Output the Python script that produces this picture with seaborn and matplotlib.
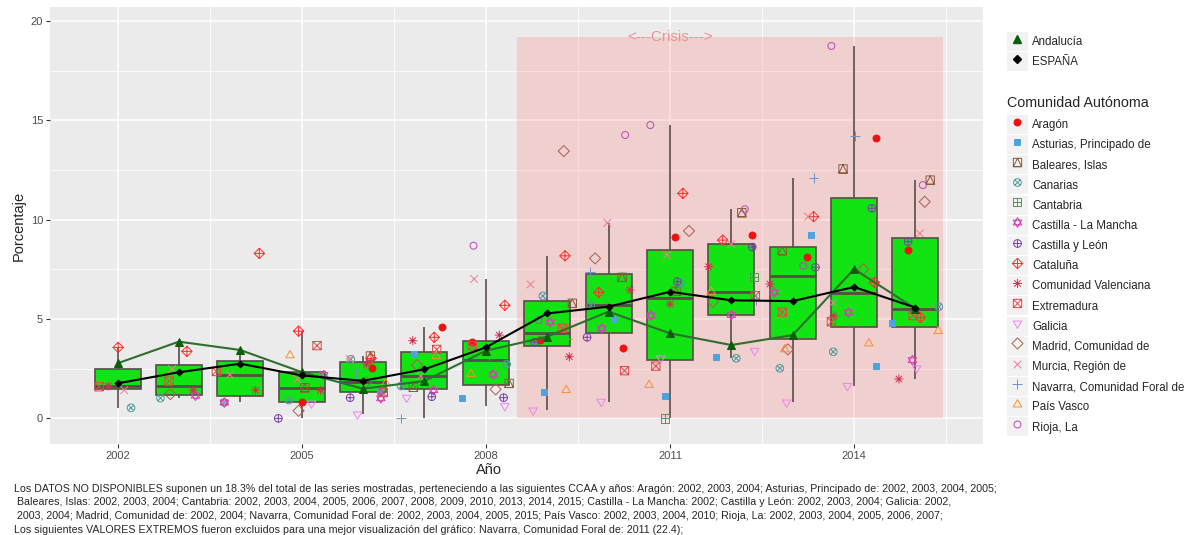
import numpy as np
import pandas as pd
import matplotlib
matplotlib.use("Agg")
import matplotlib.pyplot as plt
import seaborn as sns
from matplotlib.path import Path
from matplotlib.markers import MarkerStyle
from matplotlib.patches import Rectangle
from matplotlib.lines import Line2D
from matplotlib.ticker import FixedLocator

N = None
anios = list(range(2002, 2016))

# series con linea propia
andalucia = [2.77, 3.86, 3.44, 2.33, 1.49, 1.88, 3.40, 4.11, 5.37, 4.28, 3.69, 4.19, 7.51, 5.52]
espana = [1.76, 2.32, 2.75, 2.16, 1.89, 2.47, 3.57, 5.28, 5.62, 6.37, 5.94, 5.90, 6.61, 5.57]

# resto de CCAA (None = dato no disponible)
aragon = [N, N, N, 0.84, 2.53, 4.61, 3.82, 3.94, 3.55, 9.14, 9.22, 8.12, 14.09, 8.49]
asturias = [N, N, N, N, 1.40, 3.22, 1.04, 1.31, 4.98, 1.14, 3.10, 9.22, 2.63, 4.81]
baleares = [N, N, N, 1.54, 3.14, 1.56, 1.76, 5.79, 7.10, 6.40, 10.35, 8.44, 12.55, 11.99]
canarias = [0.53, 1.02, 0.80, 0.92, 2.97, 1.63, 2.72, 6.16, 5.68, 6.81, 3.02, 2.52, 3.35, 5.62]
cantabria = [N, N, N, N, N, N, N, N, N, 0.00, 7.10, N, N, N]
castilla_mancha = [N, 1.14, 0.80, 2.18, 1.01, 1.42, 2.21, 4.83, 4.53, 5.17, 5.20, 6.34, 5.33, 2.93]
castilla_leon = [N, N, N, 0.00, 1.04, 1.09, 1.04, 3.83, 4.08, 6.88, 8.62, 7.60, 10.57, 8.89]
cataluna = [3.57, 3.37, 8.30, 4.39, 3.02, 4.08, 5.69, 8.18, 6.34, 11.32, 8.97, 10.15, 6.84, 5.08]
valenciana = [1.63, 1.42, 1.42, 1.42, 2.73, 3.91, 4.19, 3.10, 6.46, 5.75, 7.63, 6.76, 5.15, 1.98]
extremadura = [1.59, 1.88, 2.36, 3.66, 1.30, 3.47, 3.66, 4.53, 2.40, 2.63, 6.17, 5.35, 4.86, 5.17]
galicia = [N, N, N, 0.75, 0.20, 1.04, 0.62, 0.40, 0.84, 3.02, 3.40, 0.80, 1.63, 2.52]
madrid = [N, 1.22, N, 0.38, 1.81, 2.68, 1.46, 13.45, 8.05, 9.43, 5.87, 3.47, 7.50, 10.90]
murcia = [1.42, 2.47, 2.20, 1.98, 3.00, 2.13, 7.01, 6.74, 9.84, 8.22, 8.76, 10.15, 5.82, 9.31]
navarra = [N, N, N, N, 2.30, 0.00, 3.20, 3.98, 7.38, N, 5.95, 12.08, 14.21, N]
pais_vasco = [N, N, N, 3.17, 1.76, 3.14, 2.23, 1.42, N, 1.68, 6.37, 3.47, 3.77, 4.39]
rioja = [N, N, N, N, N, N, 8.69, 4.95, 14.26, 14.76, 10.52, 7.68, 18.74, 11.74]

# desplazamiento horizontal (jitter) de cada punto, en años
j_aragon = [N, N, N, 0.00, 0.14, 0.28, -0.22, -0.11, 0.24, 0.09, 0.34, 0.23, 0.35, -0.12]
j_asturias = [N, N, N, N, 0.28, -0.17, -0.38, -0.05, 0.09, -0.08, -0.25, 0.29, 0.35, -0.38]
j_baleares = [N, N, N, 0.05, 0.12, -0.18, 0.38, 0.41, 0.22, 0.10, 0.17, -0.17, -0.18, 0.24]
j_canarias = [0.22, -0.30, -0.26, -0.21, -0.20, -0.38, 0.34, -0.07, -0.29, 0.17, 0.08, -0.21, -0.34, 0.38]
j_cantabria = [N, N, N, N, N, N, N, N, N, -0.08, 0.37, N, N, N]
j_castilla_mancha = [N, 0.27, -0.26, 0.36, 0.29, 0.15, 0.12, 0.05, -0.11, -0.31, 0.00, -0.30, -0.09, -0.05]
j_castilla_leon = [N, N, N, -0.38, -0.21, 0.12, 0.29, -0.21, -0.35, 0.12, 0.34, 0.37, 0.29, -0.12]
j_cataluna = [0.01, 0.13, 0.31, -0.05, 0.13, 0.16, 0.31, 0.29, -0.16, 0.21, -0.14, 0.34, 0.33, 0.08]
j_valenciana = [-0.15, 0.23, 0.25, 0.31, 0.06, -0.19, 0.22, 0.36, 0.35, 0.00, -0.37, -0.37, -0.33, -0.27]
j_extremadura = [-0.30, -0.16, -0.39, 0.25, 0.33, 0.20, -0.22, 0.25, 0.26, -0.23, 0.39, -0.17, -0.37, -0.04]
j_galicia = [N, N, N, 0.16, -0.09, -0.29, 0.31, -0.23, -0.12, -0.15, 0.38, -0.10, -0.11, 0.02]
j_madrid = [N, -0.14, N, -0.05, 0.05, -0.12, 0.16, 0.27, -0.22, 0.31, -0.30, -0.08, 0.15, 0.15]
j_murcia = [0.11, -0.11, -0.17, -0.07, -0.22, -0.06, -0.19, -0.27, -0.02, -0.05, 0.00, 0.25, -0.34, 0.07]
j_navarra = [N, N, N, N, -0.12, -0.38, 0.05, 0.33, -0.30, N, 0.40, 0.34, 0.02, N]
j_pais_vasco = [N, N, N, -0.19, 0.37, 0.19, -0.24, 0.31, N, -0.34, -0.33, -0.13, 0.24, 0.37]
j_rioja = [N, N, N, N, N, N, -0.20, -0.14, 0.27, -0.32, 0.22, 0.17, -0.37, 0.12]

crisis_inicio, crisis_fin, crisis_alto = 2008.5, 2015.45, 19.2
crisis_texto_x = 2011

nota = [
    "Los DATOS NO DISPONIBLES suponen un 18.3% del total de las series mostradas, perteneciendo a las siguientes CCAA y años: Aragón: 2002, 2003, 2004; Asturias, Principado de: 2002, 2003, 2004, 2005;",
    " Baleares, Islas: 2002, 2003, 2004; Cantabria: 2002, 2003, 2004, 2005, 2006, 2007, 2008, 2009, 2010, 2013, 2014, 2015; Castilla - La Mancha: 2002; Castilla y León: 2002, 2003, 2004; Galicia: 2002,",
    " 2003, 2004; Madrid, Comunidad de: 2002, 2004; Navarra, Comunidad Foral de: 2002, 2003, 2004, 2005, 2015; País Vasco: 2002, 2003, 2004, 2010; Rioja, La: 2002, 2003, 2004, 2005, 2006, 2007;",
    "Los siguientes VALORES EXTREMOS fueron excluidos para una mejor visualización del gráfico: Navarra, Comunidad Foral de: 2011 (22.4);",
]


# --- formas tipo ggplot (shapes 16..1) ---
def linea(*pts):
    return Path(pts, [Path.MOVETO] + [Path.LINETO] * (len(pts) - 1))


def poligono(*pts):
    return Path(list(pts) + [pts[0]], closed=True)


c = Path.unit_circle()
cuad = poligono((-1, -1), (1, -1), (1, 1), (-1, 1))
rombo = poligono((0, 1), (1, 0), (0, -1), (-1, 0))
mas = Path.make_compound_path(linea((-1, 0), (1, 0)), linea((0, -1), (0, 1)))
equis = Path.make_compound_path(linea((-1, -1), (1, 1)), linea((-1, 1), (1, -1)))
equis_c = Path.make_compound_path(linea((-.71, -.71), (.71, .71)), linea((-.71, .71), (.71, -.71)))
tri_up = poligono((0, 1), (-0.87, -0.5), (0.87, -0.5))
tri_dn = poligono((0, -1), (-0.87, 0.5), (0.87, 0.5))

formas = {
    "Aragón": ("o", "#ee1111", True, 5.0),
    "Asturias, Principado de": ("s", "#4fa3dc", True, 5.0),
    "Baleares, Islas": (Path.make_compound_path(cuad, poligono((-1, -1), (1, -1), (0, 1))), "#8b5a3c", False, 6.0),
    "Canarias": (Path.make_compound_path(c, equis_c), "#4f9a9a", False, 5.5),
    "Cantabria": (Path.make_compound_path(cuad, mas), "#4e9a4e", False, 6.0),
    "Castilla - La Mancha": (Path.make_compound_path(tri_up, tri_dn), "#d63fb5", False, 7.0),
    "Castilla y León": (Path.make_compound_path(c, mas), "#7d3fa8", False, 5.5),
    "Cataluña": (Path.make_compound_path(rombo, mas), "#ff3030", False, 7.5),
    "Comunidad Valenciana": (Path.make_compound_path(mas, equis_c), "#d03050", False, 6.5),
    "Extremadura": (Path.make_compound_path(cuad, equis), "#e04848", False, 6.0),
    "Galicia": (tri_dn, "#ee82ee", False, 7.0),
    "Madrid, Comunidad de": (rombo, "#b05a50", False, 8.0),
    "Murcia, Región de": (equis, "#f57a90", False, 5.5),
    "Navarra, Comunidad Foral de": (mas, "#6f93c4", False, 7.0),
    "País Vasco": (tri_up, "#f59030", False, 7.0),
    "Rioja, La": (c, "#b848b8", False, 5.0),
}

series = {
    "Aragón": (aragon, j_aragon),
    "Asturias, Principado de": (asturias, j_asturias),
    "Baleares, Islas": (baleares, j_baleares),
    "Canarias": (canarias, j_canarias),
    "Cantabria": (cantabria, j_cantabria),
    "Castilla - La Mancha": (castilla_mancha, j_castilla_mancha),
    "Castilla y León": (castilla_leon, j_castilla_leon),
    "Cataluña": (cataluna, j_cataluna),
    "Comunidad Valenciana": (valenciana, j_valenciana),
    "Extremadura": (extremadura, j_extremadura),
    "Galicia": (galicia, j_galicia),
    "Madrid, Comunidad de": (madrid, j_madrid),
    "Murcia, Región de": (murcia, j_murcia),
    "Navarra, Comunidad Foral de": (navarra, j_navarra),
    "País Vasco": (pais_vasco, j_pais_vasco),
    "Rioja, La": (rioja, j_rioja),
}

filas = []
for nombre, (vals, jit) in series.items():
    for a, v, j in zip(anios, vals, jit):
        if v is not None:
            filas.append({"ccaa": nombre, "anio": a, "x": a + j, "valor": v})
for a, v in zip(anios, andalucia):
    filas.append({"ccaa": "Andalucía", "anio": a, "x": a, "valor": v})
df = pd.DataFrame(filas)

sns.set_theme(style="darkgrid", rc={
    "axes.facecolor": "#ebebeb", "grid.color": "white",
    "xtick.bottom": True, "ytick.left": True,
    "xtick.color": "#333333", "ytick.color": "#333333",
    "xtick.labelcolor": "#4d4d4d", "ytick.labelcolor": "#4d4d4d",
})
plt.rcParams["font.family"] = ["Liberation Sans", "DejaVu Sans"]

fig = plt.figure(figsize=(11.9, 5.35), dpi=100)
ax = fig.add_axes([50 / 1190, 1 - 444 / 535, 933 / 1190, 437 / 535])

ax.add_patch(Rectangle((crisis_inicio, 0), crisis_fin - crisis_inicio, crisis_alto,
                       facecolor="#ff7f7f", alpha=0.25, edgecolor="none", zorder=1))
ax.text(crisis_texto_x, crisis_alto, "<---Crisis--->",
        color="#f29090", fontsize=11, ha="center", va="center", zorder=2)

sns.boxplot(data=df, x="anio", y="valor", native_scale=True, width=0.75,
            whis=1.5, showfliers=False, showcaps=False, color="#12e312",
            saturation=1, linecolor="#5b4a4a", linewidth=1.2,
            medianprops={"linewidth": 2.0}, ax=ax, zorder=2)

for nombre, (m, col, lleno, tam) in formas.items():
    sub = df[df["ccaa"] == nombre]
    kw = {"color": col, "edgecolor": col} if lleno else {"facecolor": "none", "edgecolor": col}
    sns.scatterplot(x=sub["x"].to_numpy(), y=sub["valor"].to_numpy(), ax=ax,
                    marker=MarkerStyle(m), s=tam ** 2, linewidth=0.7, zorder=3, **kw)

sns.lineplot(x=anios, y=andalucia, ax=ax, color="#2f6e2f", linewidth=1.5,
             marker="^", markersize=6, markerfacecolor="#0a5f0a",
             markeredgecolor="#0a5f0a", zorder=4)
sns.lineplot(x=anios, y=espana, ax=ax, color="black", linewidth=1.5,
             marker="D", markersize=3.5, markerfacecolor="black",
             markeredgecolor="black", zorder=5)

ax.set_xlim(2000.9, 2016.1)
ax.set_ylim(-1.29, 20.7)
ax.xaxis.set_major_locator(FixedLocator([2002, 2005, 2008, 2011, 2014]))
ax.xaxis.set_minor_locator(FixedLocator([2003.5, 2006.5, 2009.5, 2012.5, 2015.5]))
ax.yaxis.set_major_locator(FixedLocator([0, 5, 10, 15, 20]))
ax.yaxis.set_minor_locator(FixedLocator([2.5, 7.5, 12.5, 17.5]))
ax.set_xticklabels(["2002", "2005", "2008", "2011", "2014"])
ax.set_yticklabels(["0", "5", "10", "15", "20"])
ax.grid(which="major", color="white", linewidth=1.1)
ax.grid(which="minor", color="white", linewidth=0.55)
ax.tick_params(which="major", length=3, width=0.8, labelsize=8, pad=2)
ax.tick_params(which="minor", length=0)
for s in ax.spines.values():
    s.set_visible(False)

ax.set_xlabel("Año", fontsize=10.5)
ax.set_ylabel("Porcentaje", fontsize=10.5)
ax.xaxis.set_label_coords(0.4705, -0.043)
ax.yaxis.set_label_coords(-0.026, 0.5)

# leyendas
fondo = "#f2f2f2"


def llave(**kw):
    return (Rectangle((0, 0), 1, 1, facecolor=fondo, edgecolor="none"),
            Line2D([], [], linestyle="none", **kw))


estilo_leyenda = dict(loc="upper left", frameon=False, fontsize=8.3, borderpad=0,
                      borderaxespad=0, handlelength=1.8, handleheight=2.16,
                      labelspacing=0.1, handletextpad=0.4)

h1 = [llave(marker="^", markersize=6, color="#0a5f0a"),
      llave(marker="D", markersize=4, color="black")]
fig.legend(h1, ["Andalucía", "ESPAÑA"], bbox_to_anchor=(1007 / 1190, 1 - 32 / 535),
           **estilo_leyenda)

h2 = []
for nombre, (m, col, lleno, tam) in formas.items():
    h2.append(llave(marker=MarkerStyle(m), markersize=tam, markeredgewidth=0.7,
                    markeredgecolor=col, markerfacecolor=col if lleno else "none"))
fig.text(1007 / 1190, 1 - 103 / 535, "Comunidad Autónoma", fontsize=10.3,
         ha="left", va="center")
fig.legend(h2, list(formas.keys()), bbox_to_anchor=(1007 / 1190, 1 - 115 / 535),
           **estilo_leyenda)

for i, t in enumerate(nota):
    fig.text(14 / 1190, 1 - (488.5 + 13.8 * i) / 535, t, fontsize=7.7, va="center", ha="left")

fig.savefig("out.png", dpi=100)
